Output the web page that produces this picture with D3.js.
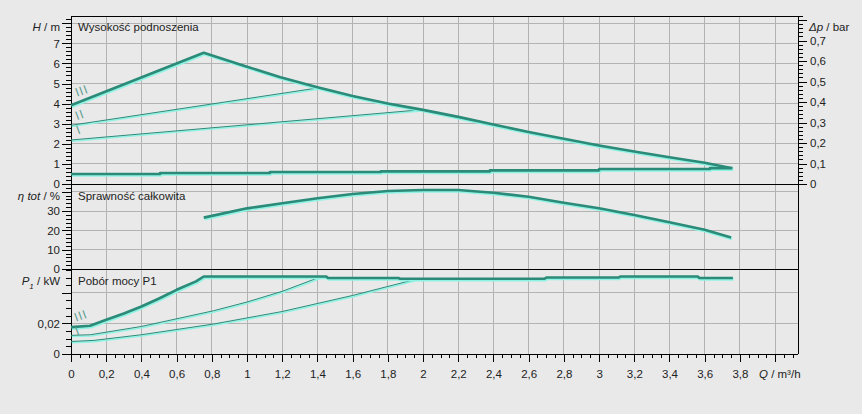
<!DOCTYPE html>
<html>
<head>
<meta charset="utf-8">
<script src="https://cdn.jsdelivr.net/npm/d3@7"></script>
<style>
  html, body { margin: 0; padding: 0; background: #e9e9e9; }
  svg { display: block; font-family: "Liberation Sans", Arial, sans-serif; }
</style>
</head>
<body>
<svg id="chart" width="862" height="414"></svg>
<script>
// ---------- DATA ----------
// Head curves (H / m vs Q / m3/h)
const qH3 = [0, 0.754, 1.0, 1.19, 1.4, 1.6, 1.8, 2.0, 2.2, 2.4, 2.6, 2.8, 3.0, 3.2, 3.4, 3.6, 3.757];
const hH3 = [3.92, 6.53, 5.84, 5.31, 4.82, 4.38, 4.01, 3.69, 3.34, 2.96, 2.59, 2.25, 1.92, 1.62, 1.33, 1.06, 0.78];
const qH2 = [0, 1.41];
const hH2 = [2.92, 4.79];
const qH1 = [0, 1.97];
const hH1 = [2.19, 3.68];
const qHmin = [0, 0.506, 1.13, 1.76, 2.38, 3.0, 3.63, 3.757];
const hHmin = [0.50, 0.55, 0.60, 0.63, 0.68, 0.75, 0.79, 0.79];
// Efficiency (eta tot / %)
const qEta = [0.754, 1.0, 1.2, 1.4, 1.6, 1.8, 2.0, 2.2, 2.4, 2.6, 2.8, 3.0, 3.2, 3.4, 3.6, 3.75];
const eta  = [26.6, 31.4, 34.0, 36.6, 38.8, 40.4, 40.9, 40.9, 39.5, 37.4, 34.3, 31.4, 28.0, 24.2, 20.3, 16.3];
// Power input P1 / kW
const qP3 = [0, 0.108, 0.2, 0.3, 0.4, 0.5, 0.6, 0.71, 0.754, 1.45, 1.46, 1.86, 1.87, 2.69, 2.70, 3.11, 3.12, 3.56, 3.57, 3.76];
const pP3 = [0.0176, 0.0185, 0.0224, 0.0265, 0.0311, 0.0363, 0.0420, 0.0475, 0.0507, 0.0507, 0.0497, 0.0497, 0.0492, 0.0492, 0.0500, 0.0500, 0.0507, 0.0507, 0.0497, 0.0497];
const qP2 = [0, 0.11, 0.4, 0.81, 1.0, 1.2, 1.375, 1.41];
const pP2 = [0.0122, 0.0126, 0.0180, 0.0283, 0.0340, 0.0410, 0.0486, 0.0503];
const qP1 = [0, 0.13, 0.4, 0.81, 1.2, 1.6, 1.93, 1.97];
const pP1 = [0.0082, 0.0089, 0.0126, 0.0196, 0.0278, 0.0383, 0.0480, 0.0492];
// Tick labels
const xTickLabels = ["0","0,2","0,4","0,6","0,8","1","1,2","1,4","1,6","1,8","2","2,2","2,4","2,6","2,8","3","3,2","3,4","3,6","3,8"];
const hTickLabels = ["0","1","2","3","4","5","6","7"];
const barTickLabels = ["0","0,1","0,2","0,3","0,4","0,5","0,6","0,7"];
const etaTickLabels = ["0","10","20","30"];
const powTickLabels = ["0","0,02"];
const panelTitles = ["Wysokość podnoszenia", "Sprawność całkowita", "Pobór mocy P1"];

// ---------- LAYOUT ----------
const L = 71, R = 798;
const topY = 16, h0 = 184, e0 = 269, p0 = 354;
const Hmax = 8.36;
const teal = "#2b8a78", glow = "#8ff3e3", labelTeal = "#5e9c8e", grid = "#b3b3b3";

const x = d3.scaleLinear().domain([0, 4.13]).range([L, R]);
const yH = d3.scaleLinear().domain([0, Hmax]).range([h0, topY]);
const yBar = d3.scaleLinear().domain([0, Hmax / 10.197]).range([h0, topY]);
const yEta = d3.scaleLinear().domain([0, 44]).range([e0, h0]);
const yPow = d3.scaleLinear().domain([0, 0.0556]).range([p0, e0]);

const svg = d3.select("#chart");
svg.append("rect").attr("width", 862).attr("height", 414).attr("fill", "#e9e9e9");

const range = (a, b, s) => d3.range(Math.round((b - a) / s) + 1).map(i => +(a + i * s).toFixed(5));

// ---------- GRID ----------
const g = svg.append("g").attr("stroke", grid).attr("stroke-width", 1).attr("shape-rendering", "crispEdges");
range(0.2, 4.0, 0.2).forEach(q => g.append("line").attr("x1", x(q)).attr("x2", x(q)).attr("y1", topY).attr("y2", p0));
range(1, 8, 1).forEach(v => g.append("line").attr("x1", L).attr("x2", R).attr("y1", yH(v)).attr("y2", yH(v)));
range(10, 40, 10).forEach(v => g.append("line").attr("x1", L).attr("x2", R).attr("y1", yEta(v)).attr("y2", yEta(v)));
[0.02, 0.04].forEach(v => g.append("line").attr("x1", L).attr("x2", R).attr("y1", yPow(v)).attr("y2", yPow(v)));

// ---------- FRAME ----------
const fr = svg.append("g").attr("stroke", "#000").attr("stroke-width", 1).attr("shape-rendering", "crispEdges");
[topY, h0, e0, p0].forEach(yy => fr.append("line").attr("x1", L).attr("x2", R).attr("y1", yy).attr("y2", yy));
fr.append("line").attr("x1", L).attr("x2", L).attr("y1", topY).attr("y2", p0);
fr.append("line").attr("x1", R).attr("x2", R).attr("y1", topY).attr("y2", p0);

// ---------- AXES ----------
function axisGroup(axis, tx, ty) {
  const a = svg.append("g").attr("transform", `translate(${tx},${ty})`).call(axis);
  a.select(".domain").remove();
  a.selectAll("line").attr("stroke", "#000").attr("shape-rendering", "crispEdges");
  a.selectAll("text").attr("font-size", 11.5).attr("fill", "#222").attr("font-family", '"Liberation Sans", Arial, sans-serif');
  return a;
}
// left: H
axisGroup(d3.axisLeft(yH).tickValues(range(0, 8.2, 0.2)).tickSize(5).tickFormat(""), L, 0);
axisGroup(d3.axisLeft(yH).tickValues(range(0, 8, 1)).tickSize(9).tickPadding(2)
  .tickFormat((d, i) => i < hTickLabels.length ? hTickLabels[i] : ""), L, 0);
// left: eta
axisGroup(d3.axisLeft(yEta).tickValues(range(0, 42, 2)).tickSize(5).tickFormat(""), L, 0);
axisGroup(d3.axisLeft(yEta).tickValues(range(0, 40, 10)).tickSize(9).tickPadding(2)
  .tickFormat((d, i) => i < etaTickLabels.length ? etaTickLabels[i] : ""), L, 0);
// left: power
axisGroup(d3.axisLeft(yPow).tickValues(range(0, 0.055, 0.005)).tickSize(5).tickFormat(""), L, 0);
axisGroup(d3.axisLeft(yPow).tickValues([0, 0.02, 0.04]).tickSize(9).tickPadding(2)
  .tickFormat((d, i) => i < powTickLabels.length ? powTickLabels[i] : ""), L, 0);
// right: bar
axisGroup(d3.axisRight(yBar).tickValues(range(0, 0.82, 0.02)).tickSize(5).tickFormat(""), R, 0);
axisGroup(d3.axisRight(yBar).tickValues(range(0, 0.8, 0.1)).tickSize(9).tickPadding(3)
  .tickFormat((d, i) => i < barTickLabels.length ? barTickLabels[i] : ""), R, 0);
// bottom: Q
axisGroup(d3.axisBottom(x).tickValues(range(0, 4.1, 0.05)).tickSize(4).tickFormat(""), 0, p0);
axisGroup(d3.axisBottom(x).tickValues(range(0, 4.0, 0.2)).tickSize(8).tickPadding(8)
  .tickFormat((d, i) => i < xTickLabels.length ? xTickLabels[i] : ""), 0, p0);

// ---------- AXIS TITLES ----------
const tt = svg.append("g").attr("font-size", 11.5).attr("fill", "#222");
function title(xp, yp, anchor, parts) {
  const t = tt.append("text").attr("x", xp).attr("y", yp).attr("text-anchor", anchor).attr("dominant-baseline", "middle");
  parts.forEach(p => {
    const s = t.append("tspan").text(p.t);
    if (p.i) s.attr("font-style", "italic");
    if (p.sub) s.attr("font-size", 8).attr("baseline-shift", "sub");
  });
}
title(60, 28, "end", [{t: "H", i: 1}, {t: " / m"}]);
title(60, 197, "end", [{t: "η tot", i: 1}, {t: " / %"}]);
title(60, 282, "end", [{t: "P", i: 1}, {t: "1", i: 1, sub: 1}, {t: " / kW"}]);
title(809, 28, "start", [{t: "Δp", i: 1}, {t: " / bar"}]);
title(759, 375, "start", [{t: "Q", i: 1}, {t: " / m³/h"}]);

// panel titles
[28, 197, 282].forEach((yy, i) =>
  tt.append("text").attr("x", 78).attr("y", yy).attr("dominant-baseline", "middle").text(panelTitles[i]));

// ---------- CURVES ----------
const cg = svg.append("g").attr("fill", "none").attr("stroke-linejoin", "round");
function curve(qs, vs, ys, width, curveType) {
  const pts = qs.map((q, i) => [q, vs[i]]);
  const ln = d3.line().x(d => x(d[0])).y(d => ys(d[1])).curve(curveType || d3.curveLinear);
  cg.append("path").attr("d", ln(pts)).attr("stroke", glow).attr("stroke-width", width + 0.6)
    .attr("transform", "translate(0.8,1.2)");
  cg.append("path").attr("d", ln(pts)).attr("stroke", teal).attr("stroke-width", width);
}
curve(qH1, hH1, yH, 1);
curve(qH2, hH2, yH, 1);
curve(qH3, hH3, yH, 2.6);
curve(qHmin, hHmin, yH, 2.6, d3.curveStepAfter);
curve(qEta, eta, yEta, 2.6);
curve(qP1, pP1, yPow, 1);
curve(qP2, pP2, yPow, 1);
curve(qP3, pP3, yPow, 2.6);

// speed stage labels
const lg = svg.append("g").attr("fill", labelTeal).attr("font-size", 12.5).attr("letter-spacing", 0.8);
[["III", 82, yH(4.6)], ["II", 80, yH(3.4)], ["I", 79, yH(2.65)], ["III", 81, yPow(0.0245)], ["I", 78, yPow(0.0145)]]
  .forEach(d => lg.append("text").attr("text-anchor", "middle").attr("dominant-baseline", "middle")
    .attr("transform", `translate(${d[1]},${d[2]}) rotate(-20)`).text(d[0]));
</script>
</body>
</html>
